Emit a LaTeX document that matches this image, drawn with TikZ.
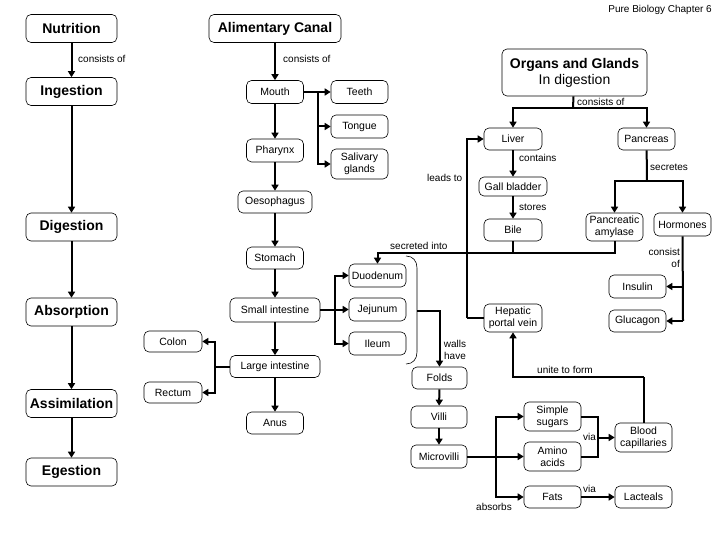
\documentclass[tikz,border=0pt]{standalone}
\usepackage{fontspec}
\setmainfont{Liberation Sans}
\usetikzlibrary{arrows.meta}

\begin{document}
\begin{tikzpicture}[x=1pt, y=-1pt,
  box/.style={draw, rounded corners=5pt, line width=0.6pt, align=center, minimum width=57pt, minimum height=23pt, inner sep=1pt, font=\fontsize{10.5}{12}\selectfont},
  head/.style={box, minimum width=91pt, minimum height=28pt, font=\fontsize{14}{16}\selectfont\bfseries},
  lbl/.style={inner sep=0pt, font=\fontsize{10}{12}\selectfont},
  link/.style={line width=2pt},
  arr/.style={link, -{Triangle[length=6pt,width=7pt]}}]
  \useasboundingbox (0,0) rectangle (720,540);

  \node[lbl, anchor=east] (title) at (712,10) {Pure Biology Chapter 6};

  \node[head] (nutrition) at (71.5,28.5) {Nutrition};
  \node[head] (ingestion) at (71.5,91.5) {Ingestion};
  \node[head] (digestion) at (71.5,227) {Digestion};
  \node[head] (absorption) at (71.5,312) {Absorption};
  \node[head] (assimilation) at (71.5,403.5) {Assimilation};
  \node[head] (egestion) at (71.5,472) {Egestion};

  \node[head, minimum width=132pt] (canal) at (275,28.5) {Alimentary Canal};
  \node[head, minimum width=145pt, minimum height=47pt, font=\fontsize{14}{16}\selectfont] (organs) at (574.5,72.5) {\textbf{Organs and Glands}\\In digestion};

  \node[box] (mouth) at (275,92) {Mouth};
  \node[box] (pharynx) at (275,150.5) {Pharynx};
  \node[box, minimum width=74pt, minimum height=22pt] (oesophagus) at (275,202) {Oesophagus};
  \node[box, minimum height=22pt] (stomach) at (275,258) {Stomach};
  \node[box, minimum width=90pt, minimum height=24pt] (smallint) at (275,310) {Small intestine};
  \node[box, minimum width=90pt, minimum height=22pt] (largeint) at (275,366.5) {Large intestine};
  \node[box, minimum height=22pt] (anus) at (275,423) {Anus};

  \node[box] (teeth) at (359.5,92) {Teeth};
  \node[box] (tongue) at (359.5,126.5) {Tongue};
  \node[box, minimum height=30pt] (saliva) at (359.5,164) {Salivary\\glands};

  \node[box, minimum width=58pt, minimum height=21pt] (colon) at (173,341.5) {Colon};
  \node[box, minimum width=58pt, minimum height=21pt] (rectum) at (173,392.5) {Rectum};

  \node[box] (duodenum) at (377.5,275.5) {Duodenum};
  \node[box] (jejunum) at (377.5,309.5) {Jejunum};
  \node[box] (ileum) at (377.5,343.5) {Ileum};

  \node[box, minimum width=55pt, minimum height=22pt] (folds) at (439.5,378) {Folds};
  \node[box, minimum width=56pt, minimum height=22pt] (villi) at (439,417) {Villi};
  \node[box, minimum width=56pt] (microvilli) at (439,456.5) {Microvilli};

  \node[box, minimum height=29pt] (sugars) at (552.5,416.5) {Simple\\sugars};
  \node[box, minimum height=29pt] (amino) at (552.5,456.5) {Amino\\acids};
  \node[box, minimum height=22pt] (fats) at (552.5,497) {Fats};
  \node[box, minimum height=29pt] (blood) at (643.5,437.5) {Blood\\capillaries};
  \node[box, minimum height=22pt] (lacteals) at (643.5,497) {Lacteals};

  \node[box, minimum width=58pt, minimum height=22pt] (liver) at (513,139) {Liver};
  \node[box, minimum width=68pt, minimum height=19pt] (gall) at (513,186.5) {Gall bladder};
  \node[box, minimum width=58pt, minimum height=22pt] (bile) at (513,230) {Bile};
  \node[box, minimum width=58pt, minimum height=28pt] (hepatic) at (513,318) {Hepatic\\portal vein};
  \node[box, minimum height=22pt] (pancreas) at (646.5,139) {Pancreas};
  \node[box, minimum height=28pt] (amylase) at (614.5,227) {Pancreatic\\amylase};
  \node[box] (hormones) at (682.5,224.5) {Hormones};
  \node[box] (insulin) at (637.5,286.5) {Insulin};
  \node[box, minimum height=22pt] (glucagon) at (637.5,321) {Glucagon};

  \foreach \a/\b in {nutrition/ingestion, ingestion/digestion, digestion/absorption,
    absorption/assimilation, assimilation/egestion, canal/mouth, mouth/pharynx,
    pharynx/oesophagus, oesophagus/stomach, stomach/smallint, smallint/largeint,
    largeint/anus, liver/gall, gall/bile, folds/villi, villi/microvilli}
    \draw[arr] (\a) -- (\b);

  \coordinate (mj) at (318,92);
  \draw[link] (mouth) -- (mj);
  \draw[arr] (mj) -- (teeth);
  \draw[arr] (mj) |- (tongue);
  \draw[arr] (mj) |- (saliva);

  \coordinate (oj) at (573,108);
  \draw[link] (organs) -- (oj);
  \draw[arr] (oj) -| (liver);
  \draw[arr] (oj) -| (pancreas);

  \coordinate (pj) at (647,181);
  \draw[link] (pancreas) -- (pj);
  \draw[arr] (pj) -| (amylase);
  \draw[arr] (pj) -| (hormones);

  \coordinate (bj) at (513,253);
  \draw[link] (bile) -- (bj);
  \draw[link] (amylase) |- (bj);
  \draw[arr] (bj) -| (duodenum);

  \coordinate (hi) at (683,286.5);
  \coordinate (hj) at (683,321);
  \draw[link] (hormones) -- (hj);
  \draw[arr] (hi) -- (insulin);
  \draw[arr] (hj) -- (glucagon);

  \coordinate (lt) at (467,318);
  \draw[link] (hepatic) -- (lt);
  \draw[arr] (lt) |- (liver);

  \coordinate (sj) at (335,310);
  \draw[link] (smallint) -- (sj);
  \draw[arr] (sj) |- (duodenum);
  \draw[arr] (sj) |- (jejunum);
  \draw[arr] (sj) |- (ileum);

  \coordinate (lj) at (215,366.5);
  \draw[link] (largeint) -- (lj);
  \draw[arr] (lj) |- (colon);
  \draw[arr] (lj) |- (rectum);

  \draw[line width=0.6pt] (406,256) .. controls (413,256) and (417,261) .. (417,268)
    -- (417,352) .. controls (417,359) and (413,364) .. (406,364);
  \coordinate (br) at (417,311);
  \draw[arr] (br) -| (folds);

  \coordinate (mv) at (496,456.5);
  \draw[arr] (microvilli) -- (amino);
  \draw[arr] (mv) |- (sugars);
  \draw[arr] (mv) |- (fats);

  \coordinate (vj) at (598,437.5);
  \draw[link] (sugars) -| (vj) |- (amino);
  \draw[arr] (vj) -- (blood);
  \draw[arr] (fats) -- (lacteals);

  \coordinate (uj) at (643.5,377);
  \draw[link] (blood) -- (uj);
  \draw[arr] (uj) -| (hepatic);

  \node[lbl, anchor=west] (cons1) at (78,59) {consists of};
  \node[lbl, anchor=west] (cons2) at (283,59) {consists of};
  \node[lbl, anchor=west] (cons3) at (577,101.5) {consists of};
  \node[lbl, anchor=west] (contains) at (519,158) {contains};
  \node[lbl, anchor=west] (stores) at (519,207) {stores};
  \node[lbl, anchor=west] (secretes) at (650,167) {secretes};
  \node[lbl, anchor=west] (leads) at (427,178) {leads to};
  \node[lbl, anchor=west] (secinto) at (390,246) {secreted into};
  \node[lbl, anchor=east, align=right] (consistof) at (680,258) {consist\\of};
  \node[lbl, align=center] (walls) at (455,350) {walls\\have};
  \node[lbl, anchor=west] (unite) at (537,370) {unite to form};
  \node[lbl, anchor=west] (via1) at (583,437) {via};
  \node[lbl, anchor=west] (via2) at (583,489) {via};
  \node[lbl, anchor=west] (absorbs) at (476,507) {absorbs};
\end{tikzpicture}
\end{document}
